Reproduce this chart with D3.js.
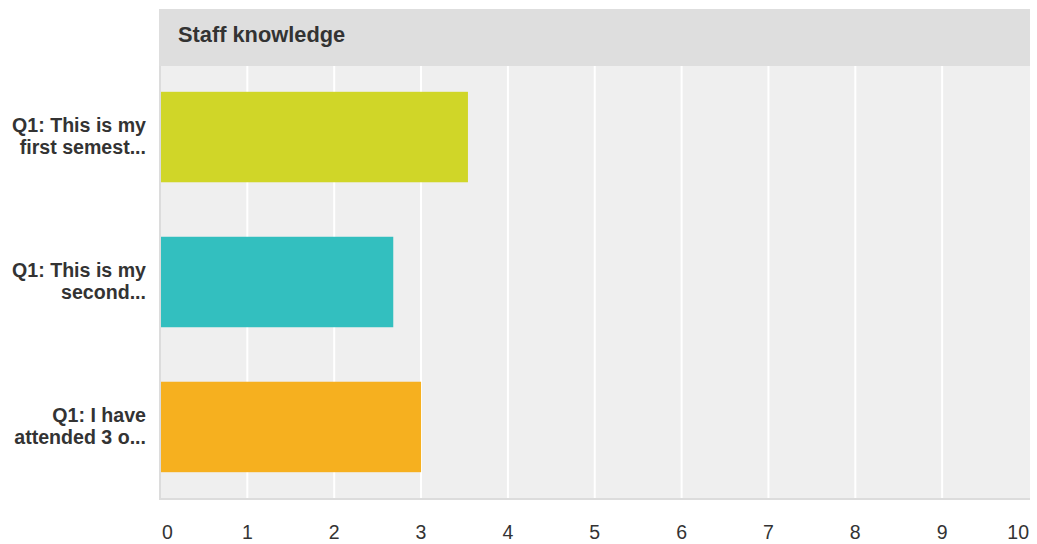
<!DOCTYPE html>
<html><head><meta charset="utf-8">
<script src="https://cdn.jsdelivr.net/npm/d3@7"></script>
<style>body{margin:0;background:#fff;}svg{display:block;font-family:"Liberation Sans",Arial,Helvetica,sans-serif;}</style>
</head><body>
<svg id="c" width="1037" height="544"></svg>
<script>
const title = "Staff knowledge";
const categories = [
  ["Q1: This is my", "first semest..."],
  ["Q1: This is my", "second..."],
  ["Q1: I have", "attended 3 o..."]
];
const values = [3.54, 2.68, 3.0];
const colors = ["#d0d628", "#33bfbf", "#f6b01f"];
const tickValues = [0,1,2,3,4,5,6,7,8,9,10];

const svg = d3.select("#c");
const L = 161, R = 1030, T = 66, B = 498;
const x = d3.scaleLinear().domain([0,10]).range([160.5, 1029]);
const y = d3.scaleBand().domain(d3.range(categories.length)).range([T, B]).paddingInner(0.376).paddingOuter(0.178);

// header
svg.append("rect").attr("x",159).attr("y",9).attr("width",R-159).attr("height",T-9).attr("fill","#dedede");
svg.append("text").attr("x",178).attr("y",42).attr("font-size",21.8).attr("font-weight","bold").attr("fill","#333").text(title);
// plot bg + borders
svg.append("rect").attr("x",159).attr("y",T).attr("width",R-159).attr("height",B-T+2).attr("fill","#dcdcdc");
svg.append("rect").attr("x",L).attr("y",T).attr("width",R-L).attr("height",B-T).attr("fill","#efefef");
// grid
svg.append("g").selectAll("line").data(tickValues.filter(d=>d>0&&d<10)).join("line")
  .attr("x1",d=>x(d)).attr("x2",d=>x(d)).attr("y1",T).attr("y2",B)
  .attr("stroke","#fff").attr("stroke-width",2);
// bars
svg.append("g").selectAll("rect").data(values).join("rect")
  .attr("x",L).attr("y",(d,i)=>y(i)).attr("height",y.bandwidth())
  .attr("width",d=>x(d)-L).attr("fill",(d,i)=>colors[i]);
// category labels
const lab = svg.append("g").selectAll("text").data(categories).join("text")
  .attr("text-anchor","end").attr("font-size",19.6).attr("font-weight","bold").attr("fill","#333");
lab.each(function(lines,i){
  const cy = y(i)+y.bandwidth()/2;
  d3.select(this).selectAll("tspan").data(lines).join("tspan")
    .attr("x",146).attr("y",(d,j)=>cy + 6 + (j-0.5)*22.5).text(d=>d);
});
// x axis labels
svg.append("g").selectAll("text").data(tickValues).join("text")
  .attr("x",d=> d===0 ? x(d)+1.5 : d===10 ? x(d) : x(d))
  .attr("y",539).attr("font-size",19.5).attr("fill","#333")
  .attr("text-anchor",d=> d===0 ? "start" : d===10 ? "end" : "middle")
  .text(d=>d);
</script>
</body></html>
